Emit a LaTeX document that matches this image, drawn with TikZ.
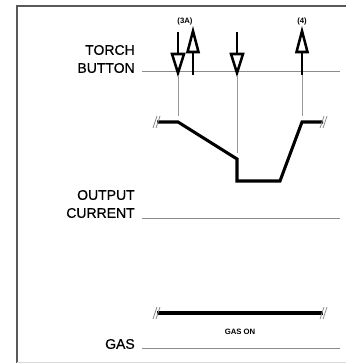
\documentclass[tikz,border=0pt]{standalone}
\usepackage{fontspec}
\setmainfont{Liberation Sans}
\newfontfamily\labfont[FakeBold=0.6]{Liberation Sans}
\begin{document}
\begin{tikzpicture}[x=0.75pt,y=-0.75pt]
\tikzset{
 frame/.style={draw=black!65, line width=0.9pt},
 base/.style={draw=black!45, line width=0.7pt},
 guide/.style={draw=black!40, line width=0.5pt},
 wave/.style={line width=2.3pt, line join=miter},
 gasline/.style={line width=3pt},
 brk/.style={draw=black!45, line width=0.6pt},
 lab/.style={font=\labfont\fontsize{10.5}{11}\selectfont, anchor=east, inner sep=0},
 small/.style={font=\bfseries\fontsize{5.8}{7}\selectfont, inner sep=0},
 arr/.style={line width=1.9pt, line join=miter},
 brkm/.pic={\draw[brk] (-3,6)--(1,-6); \draw[brk] (0,6)--(4,-6);}
}
\useasboundingbox (0,0) rectangle (346,363);
% frame
\draw[frame] (346,6) -- (17,6) -- (17,363);
\draw[draw=black!15, line width=0.6pt] (17,362) -- (346,362);

% labels
\node[lab] (torch) at (135,50) {TORCH};
\node[lab] (button) at (135,68) {BUTTON};
\node[lab] (output) at (135,195) {OUTPUT};
\node[lab] (current) at (135,213) {CURRENT};
\node[lab] (gas) at (135,344) {GAS};
\node[small] (l3a) at (185,22) {(3A)};
\node[small] (l4) at (302,22) {(4)};
\node[small] (gason) at (240,332) {GAS ON};

% baselines
\coordinate (tb1) at (142,71); \coordinate (tb2) at (340,71);
\coordinate (oc1) at (142,218); \coordinate (oc2) at (340,218);
\coordinate (g1) at (142,348); \coordinate (g2) at (340,348);
\draw[base] (tb1) -- (tb2);
\draw[base] (oc1) -- (oc2);
\draw[base] (g1) -- (g2);

% arrows
\foreach \x in {178,237}{
  \draw[arr] (\x,32) -- (\x,54);
  \draw[arr] (\x-6,54) -- (\x+6,54) -- (\x,73) -- cycle;
}
\foreach \x in {193,302}{
  \draw[arr] (\x,31) -- (\x-5.5,52) -- (\x+5.5,52) -- cycle;
  \draw[arr] (\x,52) -- (\x,75);
}

% guides
\draw[guide] (178,75) -- (178,116);
\draw[guide] (237,75) -- (237,153);
\draw[guide] (302,75) -- (302,116);

% output current waveform
\coordinate (w0) at (157,122);
\coordinate (w1) at (178,122);
\coordinate (w2) at (237,159);
\coordinate (w3) at (237,181);
\coordinate (w4) at (280,181);
\coordinate (w5) at (302,122);
\coordinate (w6) at (323,122);
\draw[wave] (w0) -- (w1) -- (w2) -- (w3) -- (w4) -- (w5) -- (w6);
\pic at (156,122) {brkm};
\pic at (323,122) {brkm};

% gas
\coordinate (ga) at (157,313);
\coordinate (gb) at (323,313);
\draw[gasline] (ga) -- (gb);
\pic at (156,313) {brkm};
\pic at (323,313) {brkm};
\end{tikzpicture}
\end{document}
